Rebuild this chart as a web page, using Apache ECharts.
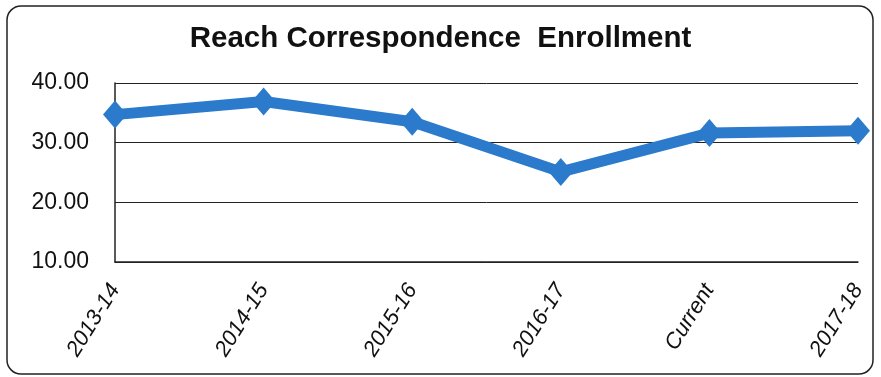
<!DOCTYPE html>
<html><head><meta charset="utf-8">
<script src="https://cdn.jsdelivr.net/npm/echarts@6/dist/echarts.min.js"></script>
<style>html,body{margin:0;padding:0;background:#fff}#c{width:881px;height:377px}</style>
</head><body><div id="c"></div>
<script>
const categories = ["2013-14","2014-15","2015-16","2016-17","Current","2017-18"];
const enrollment = [34.7, 36.9, 33.5, 25.1, 31.6, 32.0];
const yTicks = [10, 20, 30, 40];

const chart = echarts.init(document.getElementById('c'));
chart.setOption({
  animation: false,
  backgroundColor: '#fff',
  graphic: [{
    type: 'rect', shape: {x: 7, y: 6, width: 866, height: 368, r: 14},
    style: {fill: 'none', stroke: '#222', lineWidth: 1.5}, z: -1
  }],
  title: {
    text: 'Reach Correspondence  Enrollment', left: 'center', top: 19,
    textStyle: {fontFamily: 'Liberation Sans, Arial', fontWeight: 'bold', fontSize: 29.5, color: '#111'}
  },
  grid: {left: 115, right: 23, top: 83, bottom: 115},
  xAxis: {
    type: 'category', data: categories, boundaryGap: false,
    axisLine: {show: true, lineStyle: {color: '#222', width: 1.5}},
    axisTick: {show: false},
    axisLabel: {rotate: 58, margin: 24, fontFamily: 'Liberation Sans, Arial', fontStyle: 'italic', fontSize: 22, color: '#111'}
  },
  yAxis: {
    type: 'value', min: yTicks[0], max: yTicks[yTicks.length-1], interval: 10,
    axisLine: {show: true, lineStyle: {color: '#222', width: 1.5}},
    axisTick: {show: false},
    splitLine: {show: true, lineStyle: {color: '#222', width: 1}},
    axisLabel: {formatter: v => v.toFixed(2), margin: 26, fontFamily: 'Liberation Sans, Arial', fontSize: 23, color: '#111'}
  },
  series: [{
    type: 'line', data: enrollment,
    lineStyle: {color: '#2b7acb', width: 11},
    itemStyle: {color: '#2b7acb'},
    symbol: 'diamond', symbolSize: [24, 28]
  }]
});
</script></body></html>
